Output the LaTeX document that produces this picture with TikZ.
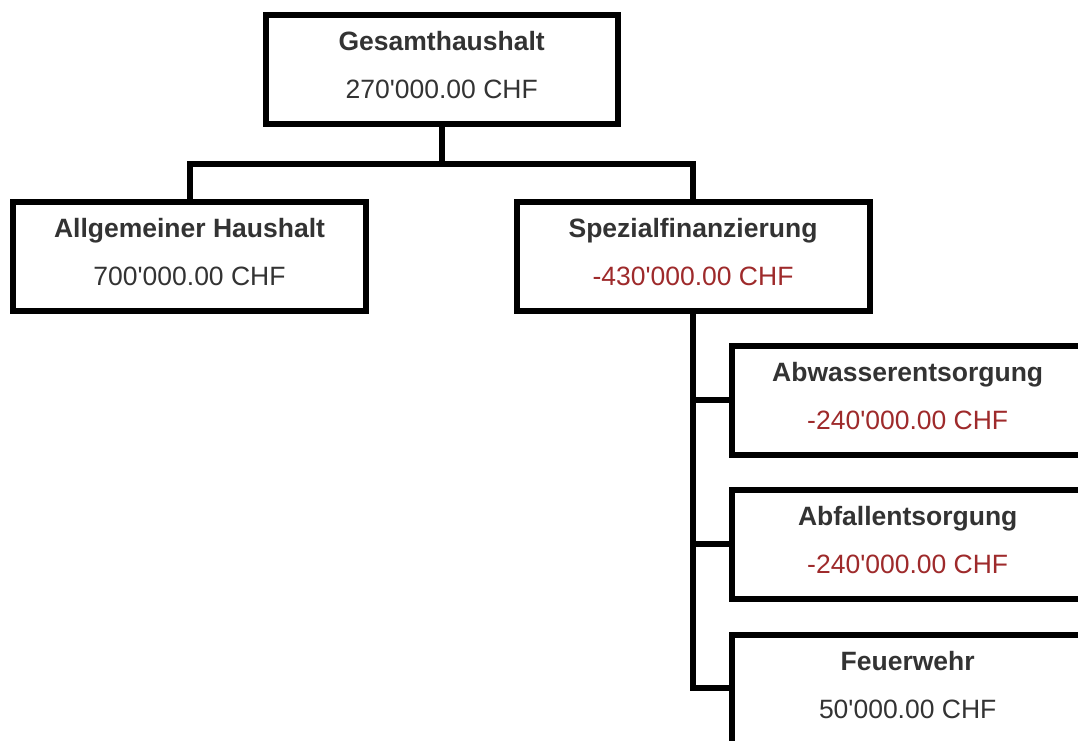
\documentclass[tikz,border=0pt]{standalone}
\usepackage{fontspec}
\setmainfont{Liberation Sans}[Ligatures=TeXOff]
\definecolor{txt}{HTML}{333333}
\definecolor{neg}{HTML}{9E2A2B}
\begin{document}
\begin{tikzpicture}[x=1pt,y=-1pt,
  box/.style={draw=black,line width=6pt,minimum width=352pt,minimum height=109pt,inner sep=0pt,fill=white},
  ttl/.style={anchor=base,inner sep=0pt,font=\fontsize{26.5}{30}\selectfont\bfseries,text=txt},
  val/.style={anchor=base,inner sep=0pt,font=\fontsize{26.5}{30}\selectfont,text=txt},
  nval/.style={val,text=neg},
  conn/.style={line width=6pt,line join=miter,draw=black}]
\useasboundingbox (0,0) rectangle (1078,740);
\clip (0,0) rectangle (1078,740);
\node[box] (g) at (441.7,69.2) {};
\node[box,minimum width=353pt] (a) at (189.5,256.2) {};
\node[box,minimum width=353pt] (s) at (693,256.2) {};
\node[box] (w) at (907.7,400.2) {};
\node[box] (f) at (907.7,544.2) {};
\node[box] (r) at (907.7,689) {};
\coordinate (j) at (441.7,164);
\draw[conn] (g.south) -- (j);
\draw[conn] (a.north) |- (j) -| (s.north);
\draw[conn] (s.south) |- (w.west);
\draw[conn] (s.south) |- (f.west);
\draw[conn] (s.south) |- ([yshift=1pt]r.west);
\node[ttl] (gt) at ([yshift=-39pt]g.north) {Gesamthaushalt};
\node[val] (gv) at ([yshift=-87pt]g.north) {270'000.00 CHF};
\node[ttl] (at) at ([yshift=-39pt]a.north) {Allgemeiner Haushalt};
\node[val] (av) at ([yshift=-87pt]a.north) {700'000.00 CHF};
\node[ttl] (st) at ([yshift=-39pt]s.north) {Spezialfinanzierung};
\node[nval] (sv) at ([yshift=-87pt]s.north) {-430'000.00 CHF};
\node[ttl] (wt) at ([yshift=-39pt]w.north) {Abwasserentsorgung};
\node[nval] (wv) at ([yshift=-87pt]w.north) {-240'000.00 CHF};
\node[ttl] (ft) at ([yshift=-39pt]f.north) {Abfallentsorgung};
\node[nval] (fv) at ([yshift=-87pt]f.north) {-240'000.00 CHF};
\node[ttl] (rt) at ([yshift=-39pt]r.north) {Feuerwehr};
\node[val] (rv) at ([yshift=-87pt]r.north) {50'000.00 CHF};
\end{tikzpicture}
\end{document}
